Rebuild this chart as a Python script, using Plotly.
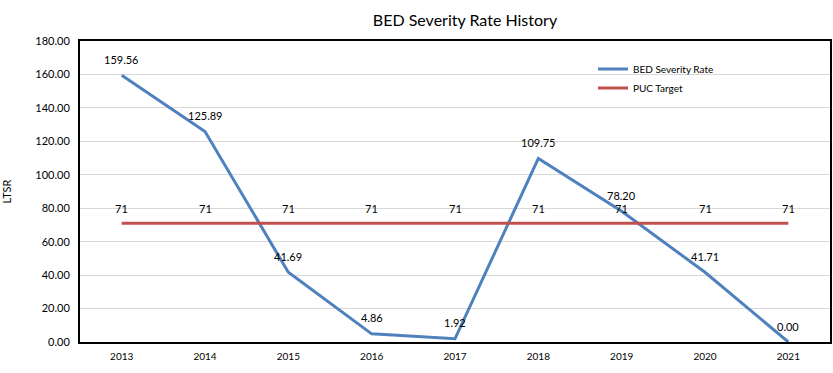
import plotly.graph_objects as go

years = ["2013", "2014", "2015", "2016", "2017", "2018", "2019", "2020", "2021"]
severity = [159.56, 125.89, 41.69, 4.86, 1.92, 109.75, 78.20, 41.71, 0.00]
target = [71, 71, 71, 71, 71, 71, 71, 71, 71]
y_ticks = [0, 20, 40, 60, 80, 100, 120, 140, 160, 180]

FONT = "Lato, 'Liberation Sans', sans-serif"

fig = go.Figure()
fig.add_trace(go.Scatter(
    x=years, y=severity, name="BED Severity Rate", mode="lines",
    line=dict(color="#4F81BD", width=3),
))
fig.add_trace(go.Scatter(
    x=years, y=target, name="PUC Target", mode="lines",
    line=dict(color="#C0504D", width=3),
))

annotations = []
for i, v in enumerate(severity):
    annotations.append(dict(x=i, y=v, xref="x", yref="y", text=f"{v:.2f}", showarrow=False,
                            yshift=16, font=dict(size=11, color="black", family=FONT)))
for i, v in enumerate(target):
    annotations.append(dict(x=i, y=v, xref="x", yref="y", text=str(v), showarrow=False,
                            yshift=15, font=dict(size=11, color="black", family=FONT)))

fig.update_layout(
    width=833, height=373,
    margin=dict(l=80, r=1, t=41, b=31),
    paper_bgcolor="white", plot_bgcolor="white",
    font=dict(family=FONT, size=11, color="black"),
    title=dict(text="BED Severity Rate History", x=465 / 833, xanchor="center",
               y=1 - 20 / 373, yanchor="middle", font=dict(size=16, family=FONT, color="black")),
    showlegend=True,
    legend=dict(x=0.684, y=0.955, xanchor="left", yanchor="top",
                bgcolor="rgba(0,0,0,0)", font=dict(size=10, family=FONT),
                tracegroupgap=0, itemwidth=30),
    annotations=annotations,
    xaxis=dict(type="category", range=[-0.5, 8.5], showline=True, linecolor="black",
               linewidth=2, mirror=True, ticks="", showgrid=False, ticklabelstandoff=4,
               tickfont=dict(size=10, family=FONT)),
    yaxis=dict(range=[0, 180], tickvals=y_ticks, tickformat=".2f", showline=True,
               linecolor="black", linewidth=2, mirror=True, gridcolor="#D9D9D9",
               gridwidth=1, zeroline=False, ticks="", ticklabelstandoff=6,
               tickfont=dict(size=11, family=FONT),
               title=dict(text="LTSR", font=dict(size=11, family=FONT), standoff=22)),
)

fig.write_html("out.html", config={"displayModeBar": False},
               post_script="document.body.style.margin='0';")
